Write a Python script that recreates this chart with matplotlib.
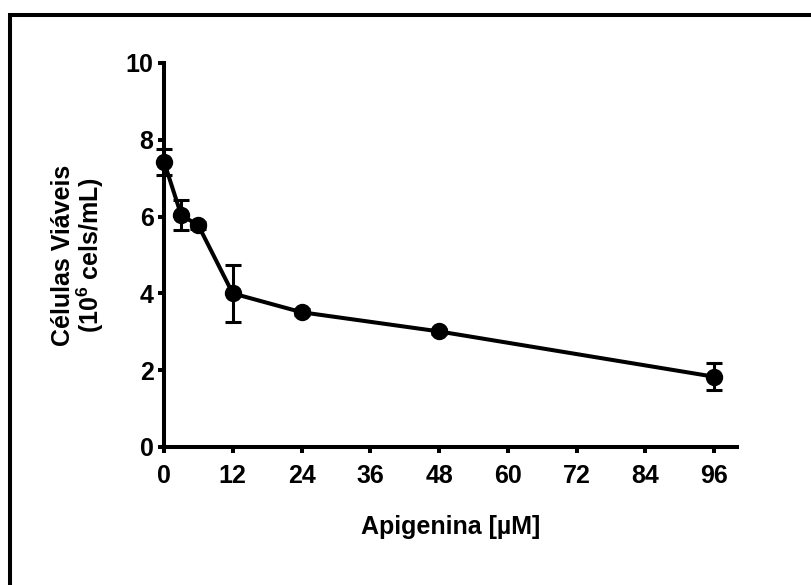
import matplotlib
matplotlib.use("Agg")
import matplotlib.pyplot as plt
from matplotlib.lines import Line2D

plt.rcParams["font.family"] = ["Liberation Sans", "DejaVu Sans"]
plt.rcParams["font.weight"] = "bold"
plt.rcParams["mathtext.fontset"] = "custom"
plt.rcParams["mathtext.rm"] = "Liberation Sans:bold"
plt.rcParams["mathtext.bf"] = "Liberation Sans:bold"

# apigenin concentration (uM) vs viable cells (10^6 cells/mL), mean +/- SEM
conc = [0, 3, 6, 12, 24, 48, 96]
cells = [7.43, 6.04, 5.77, 4.00, 3.51, 3.01, 1.83]
sem = [0.34, 0.38, 0.08, 0.74, 0.08, 0.06, 0.35]
xticks = [0, 12, 24, 36, 48, 60, 72, 84, 96]
yticks = [0, 2, 4, 6, 8, 10]

fig = plt.figure(figsize=(8.12, 5.85), dpi=100)
ax = fig.add_axes([164 / 812, 1 - 447 / 585, (737 - 164) / 812, (447 - 63) / 585])

ax.errorbar(conc, cells, yerr=sem, fmt="none", ecolor="black",
            elinewidth=2.2, capsize=6, capthick=2.2, clip_on=False, zorder=2)
ax.plot(conc, cells, color="black", lw=2.9, marker="o", markersize=11.5,
        clip_on=False, zorder=3)

ax.set_xlim(0, 100)
ax.set_ylim(0, 10)
ax.set_xticks(xticks)
ax.set_yticks(yticks)

for s in ["top", "right"]:
    ax.spines[s].set_visible(False)
for s in ["left", "bottom"]:
    ax.spines[s].set_linewidth(2.9)
    ax.spines[s].set_capstyle("projecting")

ax.tick_params(axis="both", direction="out", length=4.5, width=2.9,
               labelsize=18)
ax.tick_params(axis="x", pad=8)
ax.tick_params(axis="y", pad=3)
for lbl in ax.get_xticklabels() + ax.get_yticklabels():
    lbl.set_fontweight("bold")

ax.set_xlabel("Apigenina [\u00b5M]", fontsize=18, fontweight="bold", labelpad=19)
ax.set_ylabel("Células Viáveis\n(10$^{6}$ cels/mL)", fontsize=18,
              fontweight="bold", labelpad=14, linespacing=1.0)

# open frame around the panel
fig.add_artist(Line2D([10 / 812, 10 / 812, 1.0], [0.0, 1 - 15 / 585, 1 - 15 / 585],
                      transform=fig.transFigure, color="black", lw=2.9,
                      solid_joinstyle="miter"))

fig.savefig("out.png", dpi=100)
